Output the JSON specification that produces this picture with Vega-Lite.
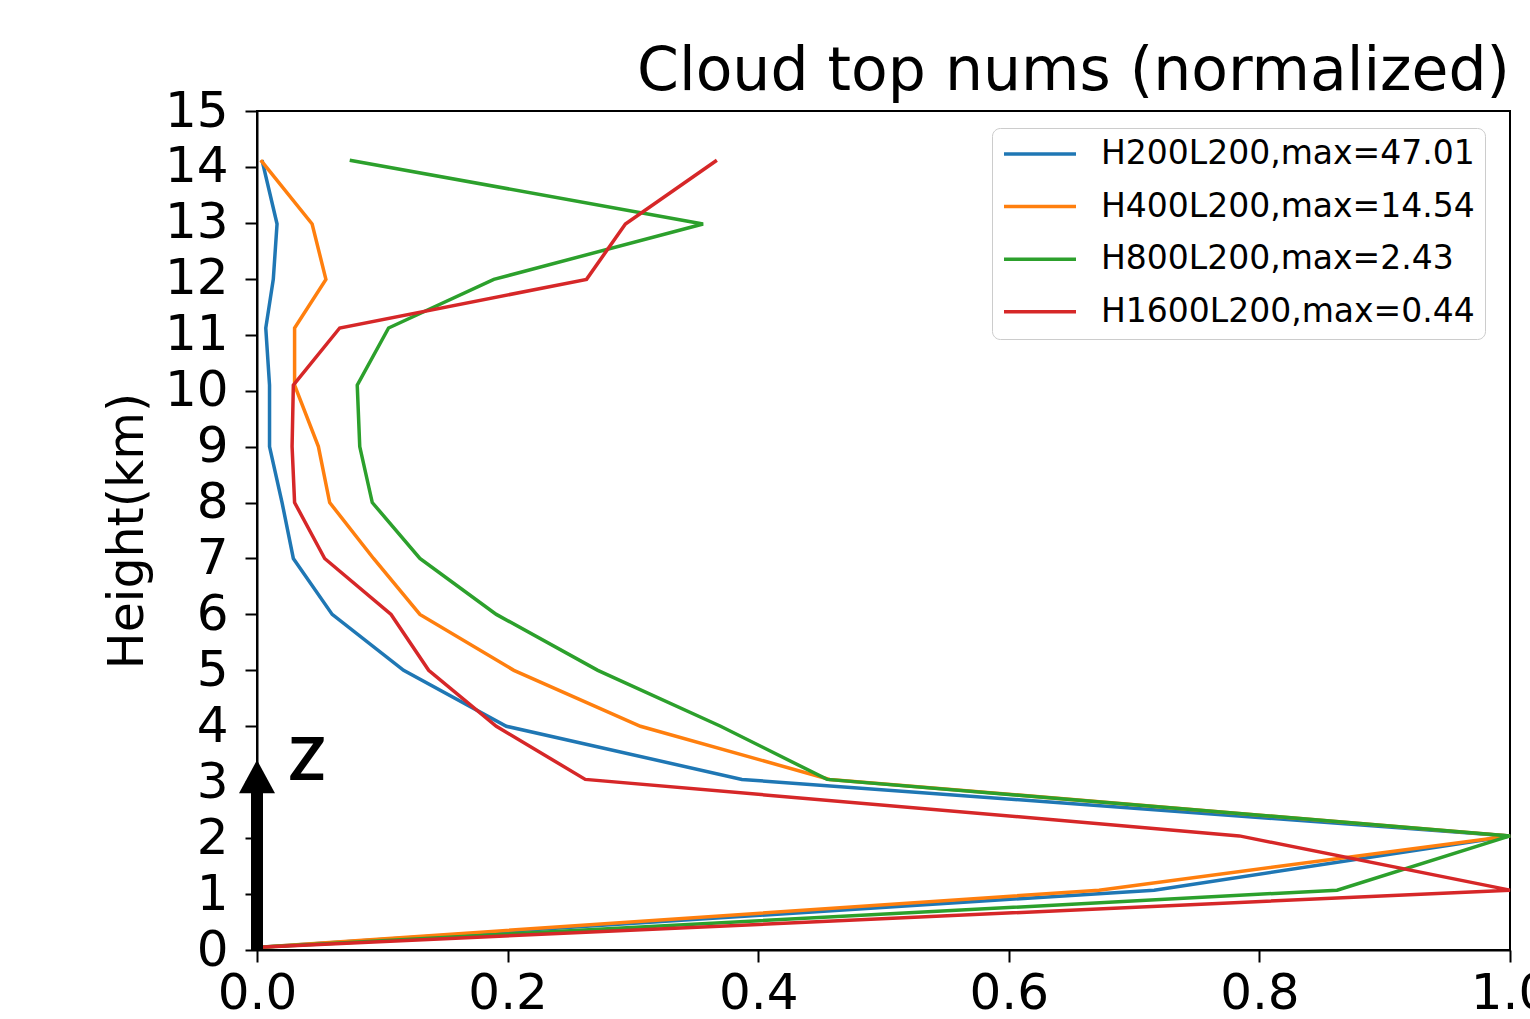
{
  "$schema": "https://vega.github.io/schema/vega-lite/v6.json",
  "width": 1253,
  "height": 839,
  "autosize": {"type": "none"},
  "padding": {"left": 257, "top": 111, "right": 20, "bottom": 69},
  "background": "white",
  "config": {
    "font": "DejaVu Sans",
    "view": {"stroke": "black", "strokeWidth": 2},
    "axis": {
      "domainColor": "black", "domainWidth": 2,
      "tickColor": "black", "tickWidth": 2, "tickSize": 12,
      "labelColor": "black", "labelFont": "DejaVu Sans", "labelFontSize": 50,
      "grid": false, "titleFont": "DejaVu Sans", "titleFontWeight": "normal", "titleColor": "black"
    },
    "legend": {
      "orient": "none", "legendX": 735, "legendY": 17,
      "symbolType": "stroke", "symbolSize": 5184, "symbolStrokeWidth": 3.5,
      "labelFontSize": 33, "labelFont": "DejaVu Sans", "labelColor": "black", "labelOffset": 23, "labelLimit": 1000,
      "padding": 10, "rowPadding": 19.6, "clipHeight": 32,
      "strokeColor": "#cccccc", "fillColor": "white", "cornerRadius": 8
    }
  },
  "title": {
    "text": "Cloud top nums (normalized)",
    "anchor": "end", "frame": "group", "fontSize": 60, "fontWeight": "normal", "color": "black",
    "offset": -17, "font": "DejaVu Sans"
  },
  "datasets": {
    "profiles": [
      {"s": "H200L200,max=47.01", "h": 0.05, "v": 0.002},
      {"s": "H200L200,max=47.01", "h": 1.07, "v": 0.716},
      {"s": "H200L200,max=47.01", "h": 2.04, "v": 1.0},
      {"s": "H200L200,max=47.01", "h": 3.05, "v": 0.387},
      {"s": "H200L200,max=47.01", "h": 4.0, "v": 0.199},
      {"s": "H200L200,max=47.01", "h": 5.0, "v": 0.117},
      {"s": "H200L200,max=47.01", "h": 6.0, "v": 0.060},
      {"s": "H200L200,max=47.01", "h": 7.0, "v": 0.029},
      {"s": "H200L200,max=47.01", "h": 8.0, "v": 0.020},
      {"s": "H200L200,max=47.01", "h": 9.0, "v": 0.010},
      {"s": "H200L200,max=47.01", "h": 10.1, "v": 0.010},
      {"s": "H200L200,max=47.01", "h": 11.12, "v": 0.007},
      {"s": "H200L200,max=47.01", "h": 11.99, "v": 0.013},
      {"s": "H200L200,max=47.01", "h": 12.98, "v": 0.016},
      {"s": "H200L200,max=47.01", "h": 14.12, "v": 0.004},
      {"s": "H400L200,max=14.54", "h": 0.05, "v": 0.002},
      {"s": "H400L200,max=14.54", "h": 1.07, "v": 0.672},
      {"s": "H400L200,max=14.54", "h": 2.04, "v": 1.0},
      {"s": "H400L200,max=14.54", "h": 3.05, "v": 0.457},
      {"s": "H400L200,max=14.54", "h": 4.0, "v": 0.306},
      {"s": "H400L200,max=14.54", "h": 5.0, "v": 0.205},
      {"s": "H400L200,max=14.54", "h": 6.0, "v": 0.130},
      {"s": "H400L200,max=14.54", "h": 7.0, "v": 0.093},
      {"s": "H400L200,max=14.54", "h": 8.0, "v": 0.058},
      {"s": "H400L200,max=14.54", "h": 9.0, "v": 0.049},
      {"s": "H400L200,max=14.54", "h": 10.1, "v": 0.030},
      {"s": "H400L200,max=14.54", "h": 11.12, "v": 0.030},
      {"s": "H400L200,max=14.54", "h": 11.99, "v": 0.055},
      {"s": "H400L200,max=14.54", "h": 12.98, "v": 0.044},
      {"s": "H400L200,max=14.54", "h": 14.12, "v": 0.003},
      {"s": "H800L200,max=2.43", "h": 0.05, "v": 0.002},
      {"s": "H800L200,max=2.43", "h": 1.07, "v": 0.862},
      {"s": "H800L200,max=2.43", "h": 2.04, "v": 1.0},
      {"s": "H800L200,max=2.43", "h": 3.05, "v": 0.455},
      {"s": "H800L200,max=2.43", "h": 4.0, "v": 0.370},
      {"s": "H800L200,max=2.43", "h": 5.0, "v": 0.272},
      {"s": "H800L200,max=2.43", "h": 6.0, "v": 0.191},
      {"s": "H800L200,max=2.43", "h": 7.0, "v": 0.130},
      {"s": "H800L200,max=2.43", "h": 8.0, "v": 0.092},
      {"s": "H800L200,max=2.43", "h": 9.0, "v": 0.082},
      {"s": "H800L200,max=2.43", "h": 10.1, "v": 0.080},
      {"s": "H800L200,max=2.43", "h": 11.12, "v": 0.105},
      {"s": "H800L200,max=2.43", "h": 11.99, "v": 0.189},
      {"s": "H800L200,max=2.43", "h": 12.98, "v": 0.356},
      {"s": "H800L200,max=2.43", "h": 14.12, "v": 0.074},
      {"s": "H1600L200,max=0.44", "h": 0.05, "v": 0.002},
      {"s": "H1600L200,max=0.44", "h": 1.07, "v": 1.0},
      {"s": "H1600L200,max=0.44", "h": 2.04, "v": 0.784},
      {"s": "H1600L200,max=0.44", "h": 3.05, "v": 0.262},
      {"s": "H1600L200,max=0.44", "h": 4.0, "v": 0.191},
      {"s": "H1600L200,max=0.44", "h": 5.0, "v": 0.137},
      {"s": "H1600L200,max=0.44", "h": 6.0, "v": 0.107},
      {"s": "H1600L200,max=0.44", "h": 7.0, "v": 0.054},
      {"s": "H1600L200,max=0.44", "h": 8.0, "v": 0.030},
      {"s": "H1600L200,max=0.44", "h": 9.0, "v": 0.028},
      {"s": "H1600L200,max=0.44", "h": 10.1, "v": 0.029},
      {"s": "H1600L200,max=0.44", "h": 11.12, "v": 0.066},
      {"s": "H1600L200,max=0.44", "h": 11.99, "v": 0.263},
      {"s": "H1600L200,max=0.44", "h": 12.98, "v": 0.294},
      {"s": "H1600L200,max=0.44", "h": 14.12, "v": 0.367}
    ],
    "shaft": [{"x": 0, "y0": 0, "y1": 2.85}],
    "head": [{"x": 0, "y": 3.10}],
    "zlabel": [{"x": 0.040, "y": 3.04, "t": "Z"}]
  },
  "layer": [
    {
      "data": {"name": "profiles"},
      "mark": {"type": "line", "strokeWidth": 3.5},
      "encoding": {
        "x": {"field": "v", "type": "quantitative",
              "scale": {"domain": [0, 1], "nice": false, "zero": false},
              "axis": {"values": [0, 0.2, 0.4, 0.6, 0.8, 1.0], "format": ".1f", "labelPadding": 6, "title": null, "labelFlush": false, "labelOverlap": false}},
        "y": {"field": "h", "type": "quantitative",
              "scale": {"domain": [0, 15], "nice": false, "zero": false},
              "axis": {"values": [0,1,2,3,4,5,6,7,8,9,10,11,12,13,14,15], "labelPadding": 17, "title": "Height(km)", "titleFontSize": 49, "titlePadding": 12, "labelOverlap": false, "labelFlush": false}},
        "color": {"field": "s", "type": "nominal",
                  "scale": {"domain": ["H200L200,max=47.01", "H400L200,max=14.54", "H800L200,max=2.43", "H1600L200,max=0.44"],
                            "range": ["#1f77b4", "#ff7f0e", "#2ca02c", "#d62728"]},
                  "legend": {"title": null}},
        "order": {"field": "h", "type": "quantitative"}
      }
    },
    {
      "data": {"name": "shaft"},
      "mark": {"type": "rule", "strokeWidth": 12, "color": "black"},
      "encoding": {
        "x": {"field": "x", "type": "quantitative"},
        "y": {"field": "y0", "type": "quantitative"},
        "y2": {"field": "y1"}
      }
    },
    {
      "data": {"name": "head"},
      "mark": {"type": "point", "shape": "M0,-0.92L1,0.92L-1,0.92Z", "size": 1296, "filled": true, "color": "black", "opacity": 1},
      "encoding": {
        "x": {"field": "x", "type": "quantitative"},
        "y": {"field": "y", "type": "quantitative"}
      }
    },
    {
      "data": {"name": "zlabel"},
      "mark": {"type": "text", "font": "Lato", "fontWeight": "bold", "fontSize": 60, "align": "center", "baseline": "alphabetic", "color": "black"},
      "encoding": {
        "x": {"field": "x", "type": "quantitative"},
        "y": {"field": "y", "type": "quantitative"},
        "text": {"field": "t", "type": "nominal"}
      }
    }
  ]
}
